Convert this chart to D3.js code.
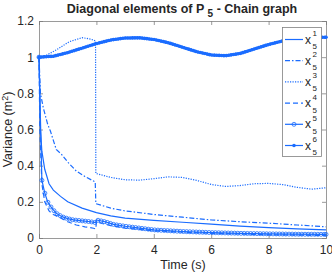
<!DOCTYPE html>
<html>
<head>
<meta charset="utf-8">
<script src="https://cdn.jsdelivr.net/npm/d3@7"></script>
<style>
  body { margin: 0; background: #fff; }
  text { font-family: "Liberation Sans", Arial, sans-serif; fill: #262626; }
</style>
</head>
<body>
<div id="chart"></div>
<script>
// 数据，从图上读的
const t1 = [0, 0.05, 0.1, 0.2, 0.35, 0.5, 0.75, 1, 1.5, 2, 2.5, 3, 4, 5, 6, 7, 8, 9, 10];
const v1 = [1, 0.6, 0.48, 0.38, 0.3, 0.265, 0.23, 0.2, 0.165, 0.14, 0.122, 0.11, 0.098, 0.087, 0.077, 0.066, 0.057, 0.05, 0.045];

const t2 = [0, 0.05, 0.15, 0.3, 0.4, 0.6, 0.8, 1.0, 1.3, 1.6, 1.96, 1.98, 2.5, 3, 4, 5, 6, 7, 8, 9, 10];
const v2 = [1, 0.8, 0.72, 0.63, 0.59, 0.49, 0.46, 0.42, 0.37, 0.34, 0.31, 0.19, 0.165, 0.15, 0.13, 0.115, 0.1, 0.09, 0.082, 0.072, 0.062];

const t3 = [0, 0.25, 0.6, 1.05, 1.5, 1.8, 1.97, 1.98, 2.5, 3, 3.5, 4, 4.5, 5, 5.5, 6, 6.5, 7, 7.5, 8, 8.5, 9, 9.5, 10];
const v3 = [1, 1.01, 1.04, 1.085, 1.108, 1.1, 1.09, 0.357, 0.335, 0.322, 0.32, 0.328, 0.338, 0.335, 0.318, 0.296, 0.285, 0.29, 0.3, 0.302, 0.295, 0.28, 0.27, 0.278];

const t4 = [0, 0.03, 0.1, 0.2, 0.35, 0.5, 0.7, 1.0, 1.3, 1.6, 1.9, 1.98, 2.0, 2.2, 2.5, 3, 4, 5, 6, 7, 8, 9, 10];
const v4 = [1, 0.6, 0.3, 0.2, 0.15, 0.13, 0.115, 0.09, 0.072, 0.062, 0.054, 0.05, 0.09, 0.08, 0.068, 0.055, 0.04, 0.032, 0.026, 0.022, 0.018, 0.016, 0.014];

const t5 = [0, 0.1, 0.2, 0.3, 0.4, 0.5, 0.6, 0.8, 1.0, 1.2, 1.5, 1.8, 1.97, 2.0, 2.3, 2.6, 3, 3.5, 4, 5, 6, 7, 8, 9, 10];
const v5 = [1, 0.32, 0.25, 0.2, 0.175, 0.155, 0.137, 0.118, 0.107, 0.1, 0.095, 0.09, 0.085, 0.1, 0.09, 0.075, 0.065, 0.055, 0.045, 0.036, 0.03, 0.026, 0.023, 0.021, 0.02];

const t6 = [0, 0.5, 1, 1.5, 2, 2.5, 3, 3.5, 4, 4.5, 5, 5.5, 6, 6.5, 7, 7.5, 8, 8.5, 9, 9.5, 10];
const v6 = [1.0, 1.005, 1.025, 1.05, 1.075, 1.095, 1.106, 1.107, 1.098, 1.08, 1.055, 1.03, 1.012, 1.008, 1.02, 1.045, 1.07, 1.09, 1.104, 1.11, 1.11];

const xTicks = [0, 2, 4, 6, 8, 10];
const yTicks = [0, 0.2, 0.4, 0.6, 0.8, 1, 1.2];
const legendNames = ["1", "2", "3", "4", "5", "6"];

const width = 332, height = 274;
const mLeft = 39, mRight = 326, mTop = 21, mBottom = 238;
const blue = "#1a6cff";

let svg = d3.select("#chart").append("svg")
  .attr("width", width)
  .attr("height", height);

let x = d3.scaleLinear().domain([0, 10]).range([mLeft, mRight]);
let y = d3.scaleLinear().domain([0, 1.2]).range([mBottom, mTop]);

// 坐标轴
let axB = d3.axisBottom(x).tickValues(xTicks).tickSize(-4).tickPadding(7).tickFormat(d3.format("d"));
let axL = d3.axisLeft(y).tickValues(yTicks).tickSize(-4).tickPadding(5).tickFormat(d => d === 1 ? "1" : d === 0 ? "0" : d3.format(".1f")(d));
let axT = d3.axisTop(x).tickValues(xTicks).tickSize(-4).tickFormat("");
let axR = d3.axisRight(y).tickValues(yTicks).tickSize(-4).tickFormat("");

function styleAxis(g) {
  g.select(".domain").attr("stroke", "#808080").attr("stroke-width", 0.8);
  g.selectAll(".tick line").attr("stroke", "#808080").attr("stroke-width", 0.8);
  g.selectAll(".tick text").style("font-size", "12px").attr("fill", "#262626");
}
svg.append("g").attr("transform", `translate(0,${mBottom})`).call(axB).call(styleAxis);
svg.append("g").attr("transform", `translate(${mLeft},0)`).call(axL).call(styleAxis);
svg.append("g").attr("transform", `translate(0,${mTop})`).call(axT).call(styleAxis);
svg.append("g").attr("transform", `translate(${mRight},0)`).call(axR).call(styleAxis);

let line = d3.line().x(d => x(d[0])).y(d => y(d[1]));

const series = [
  { t: t1, v: v1, dash: null, marker: null },
  { t: t2, v: v2, dash: "5,2,1.5,2", marker: null },
  { t: t3, v: v3, dash: "1.2,1.3", marker: null },
  { t: t4, v: v4, dash: "5,3", marker: null },
  { t: t5, v: v5, dash: null, marker: "circle" },
  { t: t6, v: v6, dash: null, marker: "dot" }
];

let gLines = svg.append("g");

// 沿着路径按x间距放标记点
function markerPoints(node, step) {
  let L = node.getTotalLength();
  let pts = [];
  let lastX = -Infinity;
  for (let l = 0; l <= L; l += 0.4) {
    let p = node.getPointAtLength(l);
    if (p.x - lastX >= step) { pts.push([p.x, p.y]); lastX = p.x; }
  }
  let e = node.getPointAtLength(L);
  pts.push([e.x, e.y]);
  return pts;
}

series.forEach(s => {
  let data = s.t.map((tt, i) => [tt, s.v[i]]);
  let p = gLines.append("path")
    .datum(data)
    .attr("fill", "none")
    .attr("stroke", blue)
    .attr("stroke-width", s.marker === "dot" ? 2.5 : 1.2)
    .attr("stroke-dasharray", s.dash)
    .attr("d", line);
  if (s.marker === "circle") {
    gLines.append("g").selectAll("circle")
      .data(markerPoints(p.node(), 2.9))
      .enter().append("circle")
      .attr("cx", d => d[0]).attr("cy", d => d[1]).attr("r", 2)
      .attr("fill", "none").attr("stroke", blue).attr("stroke-width", 0.8);
  }
  if (s.marker === "dot") {
    gLines.append("g").selectAll("circle")
      .data(markerPoints(p.node(), 2.2))
      .enter().append("circle")
      .attr("cx", d => d[0]).attr("cy", d => d[1]).attr("r", 1.8)
      .attr("fill", blue);
  }
});

// 图例
let lg = svg.append("g");
lg.append("rect")
  .attr("x", 282.5).attr("y", 27.5).attr("width", 39).attr("height", 129)
  .attr("fill", "#fff").attr("stroke", "#808080").attr("stroke-width", 0.8);
series.forEach((s, i) => {
  let ly = 39.5 + i * 21.2;
  lg.append("line")
    .attr("x1", 285).attr("x2", 303).attr("y1", ly).attr("y2", ly)
    .attr("stroke", blue).attr("stroke-width", 1.2)
    .attr("stroke-dasharray", s.dash);
  if (s.marker === "circle") {
    lg.append("circle").attr("cx", 294).attr("cy", ly).attr("r", 2)
      .attr("fill", "none").attr("stroke", blue).attr("stroke-width", 0.8);
  }
  if (s.marker === "dot") {
    lg.append("circle").attr("cx", 294).attr("cy", ly).attr("r", 1.8).attr("fill", blue);
  }
  lg.append("text").attr("x", 305).attr("y", ly + 4).style("font-size", "12px").text("x");
  lg.append("text").attr("x", 312.5).attr("y", ly - 3.5).style("font-size", "8px").text(legendNames[i]);
  lg.append("text").attr("x", 312.5).attr("y", ly + 9.5).style("font-size", "8px").text("5");
});

// 标题
let title = svg.append("text")
  .attr("x", 182).attr("y", 13)
  .attr("text-anchor", "middle")
  .style("font-size", "12.5px").style("font-weight", "bold");
title.append("tspan").text("Diagonal elements of P ");
title.append("tspan").attr("dy", 4).style("font-size", "10px").text("5");
title.append("tspan").attr("dy", -4).text(" - Chain graph");

// 轴标题
svg.append("text")
  .attr("x", 183).attr("y", 269)
  .attr("text-anchor", "middle")
  .style("font-size", "12.5px")
  .text("Time (s)");

let yl = svg.append("text")
  .attr("transform", `translate(12,${(mTop + mBottom) / 2}) rotate(-90)`)
  .attr("text-anchor", "middle")
  .style("font-size", "12.5px");
yl.append("tspan").text("Variance (m");
yl.append("tspan").attr("dy", -4).style("font-size", "9px").text("2");
yl.append("tspan").attr("dy", 4).text(")");
</script>
</body>
</html>
